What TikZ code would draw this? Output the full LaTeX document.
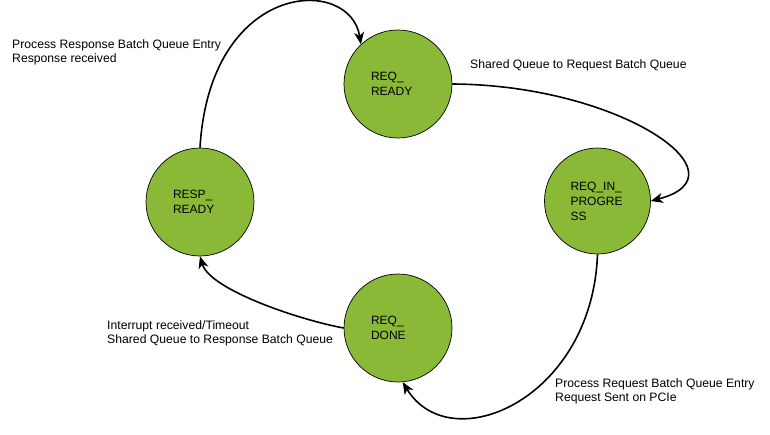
\documentclass[tikz,border=0pt]{standalone}
\usepackage{fontspec}
\setmainfont{Liberation Sans}
\usetikzlibrary{arrows.meta}
\definecolor{stategreen}{RGB}{138,185,56}
\begin{document}
\begin{tikzpicture}[x=1pt,y=-1pt,
  state/.style={circle,draw=black,line width=0.7pt,fill=stategreen,minimum size=108pt,inner sep=0pt,text width=54pt,align=left,font=\fontsize{12}{15}\selectfont},
  conn/.style={line width=1.6pt,-{Stealth[length=12pt,width=10pt,inset=3.5pt]}},
  lbl/.style={inner sep=0pt,align=left,anchor=west,font=\fontsize{12.2}{14}\selectfont}]
\useasboundingbox (0,0) rectangle (770,434);
\node[state] (ready) at (398,84) {REQ\_\\READY};
\node[state,minimum size=106pt] (prog) at (597.5,201) {REQ\_IN\_\\PROGRE\\SS};
\node[state] (resp) at (200,202) {RESP\_\\READY};
\node[state] (done) at (398,328) {REQ\_\\DONE};
\draw[conn] (resp.north) .. controls (210,-20) and (350,-25) .. (ready.133);
\draw[conn] (ready.east) .. controls (620,85) and (750,175) .. (prog.east);
\draw[conn] (prog.south) .. controls (592,400) and (450,460) .. (done.-85);
\draw[conn] (done.west) .. controls (300,320) and (210,290) .. (resp.south);
\node[lbl] (l1) at (12,52) {Process Response Batch Queue Entry\\Response received};
\node[lbl] (l2) at (470,65) {Shared Queue to Request Batch Queue};
\node[lbl] (l3) at (107,333) {Interrupt received/Timeout\\Shared Queue to Response Batch Queue};
\node[lbl] (l4) at (555,391) {Process Request Batch Queue Entry\\Request Sent on PCIe};
\end{tikzpicture}
\end{document}
